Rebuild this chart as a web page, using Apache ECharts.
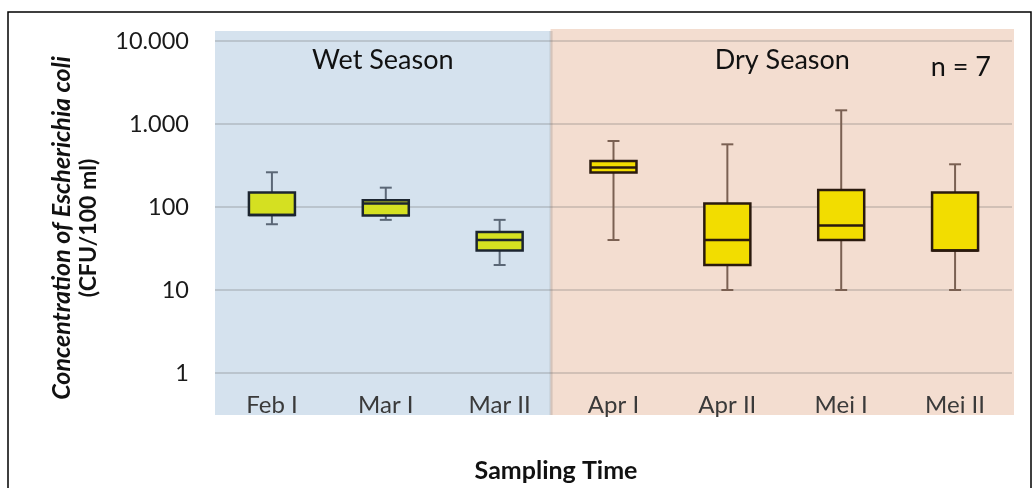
<!DOCTYPE html>
<html>
<head>
<meta charset="utf-8">
<script src="https://cdn.jsdelivr.net/npm/echarts@6/dist/echarts.min.js"></script>
<style>
html,body{margin:0;padding:0;background:#fff;}
#c{width:1033px;height:488px;}
</style>
</head>
<body>
<div id="c"></div>
<script>
// ---- data ----
const categories = ['Feb I', 'Mar I', 'Mar II', 'Apr I', 'Apr II', 'Mei I', 'Mei II'];
const season = ['wet', 'wet', 'wet', 'dry', 'dry', 'dry', 'dry'];
const whiskerMin = [62, 70, 20, 40, 10, 10, 10];
const q1 = [80, 79, 30, 260, 20, 40, 30];
const median = [80, 110, 40, 300, 40, 60, 30];
const q3 = [150, 121, 50, 358, 110, 160, 150];
const whiskerMax = [262, 171, 70, 624, 569, 1462, 327];
const yTickValues = [1, 10, 100, 1000, 10000];
const yTickLabels = ['1', '10', '100', '1.000', '10.000'];
const seasonLabels = ['Wet Season', 'Dry Season'];
const sampleLabel = 'n = 7';

// ---- styles ----
const FONT = 'Lato, "Open Sans", sans-serif';
const styles = {
  wet: { fill: '#d5e021', stroke: '#1c2530', whisker: '#5b6776', bg: '#d5e2ee' },
  dry: { fill: '#f2dd00', stroke: '#2a1a0e', whisker: '#7a6052', bg: '#f3ddd0' }
};

const boxData = categories.map((c, i) => [i, whiskerMin[i], q1[i], median[i], q3[i], whiskerMax[i]]);

const chart = echarts.init(document.getElementById('c'), null, { renderer: 'canvas' });

function renderBox(params, api) {
  const i = api.value(0);
  const st = styles[season[i]];
  const band = api.size([1, 0])[0];
  const bw = band * 0.404;
  const cw = band * 0.105;
  const pMin = api.coord([i, api.value(1)]);
  const pQ1 = api.coord([i, api.value(2)]);
  const pMed = api.coord([i, api.value(3)]);
  const pQ3 = api.coord([i, api.value(4)]);
  const pMax = api.coord([i, api.value(5)]);
  const x = pMin[0];
  const wStyle = { stroke: st.whisker, lineWidth: 2 };
  const bStyle = { stroke: st.stroke, lineWidth: 2.5 };
  return {
    type: 'group',
    children: [
      { type: 'line', shape: { x1: x, y1: pMax[1], x2: x, y2: pQ3[1] }, style: wStyle },
      { type: 'line', shape: { x1: x, y1: pQ1[1], x2: x, y2: pMin[1] }, style: wStyle },
      { type: 'line', shape: { x1: x - cw / 2, y1: pMax[1], x2: x + cw / 2, y2: pMax[1] }, style: wStyle },
      { type: 'line', shape: { x1: x - cw / 2, y1: pMin[1], x2: x + cw / 2, y2: pMin[1] }, style: wStyle },
      { type: 'rect', shape: { x: x - bw / 2, y: pQ3[1], width: bw, height: pQ1[1] - pQ3[1] },
        style: { fill: st.fill, stroke: st.stroke, lineWidth: 2.5 } },
      { type: 'line', shape: { x1: x - bw / 2, y1: pMed[1], x2: x + bw / 2, y2: pMed[1] }, style: bStyle }
    ]
  };
}

const option = {
  animation: false,
  backgroundColor: '#ffffff',
  grid: { left: 215, right: 21, top: 41, bottom: 115 },
  xAxis: {
    type: 'category',
    data: categories,
    axisLine: { show: false },
    axisTick: { show: false },
    axisLabel: { margin: 20, fontSize: 24, fontFamily: FONT, color: '#3a3a3a' },
    splitLine: { show: false }
  },
  yAxis: {
    type: 'log',
    logBase: 10,
    min: 1,
    max: 10000,
    axisLine: { show: false },
    axisTick: { show: false },
    axisLabel: {
      margin: 26, fontSize: 23.5, fontFamily: FONT, color: '#1a1a1a',
      formatter: v => { const k = yTickValues.indexOf(Math.round(v)); return k >= 0 ? yTickLabels[k] : ''; }
    },
    splitLine: { show: true, lineStyle: { color: 'rgba(100,100,100,0.24)', width: 2 } }
  },
  series: [{
    type: 'custom',
    renderItem: renderBox,
    encode: { x: 0, y: [1, 2, 3, 4, 5] },
    data: boxData,
    z: 5
  }]
};
chart.setOption(option);

// background regions from the axis scales
const c0 = chart.convertToPixel({ xAxisIndex: 0 }, categories[0]);
const c1 = chart.convertToPixel({ xAxisIndex: 0 }, categories[1]);
const band = c1 - c0;
const firstDry = season.indexOf('dry');
const cLastWet = chart.convertToPixel({ xAxisIndex: 0 }, categories[firstDry - 1]);
const cLast = chart.convertToPixel({ xAxisIndex: 0 }, categories[categories.length - 1]);
const left = c0 - band / 2;
const divide = cLastWet + band / 2 - 6;
const right = cLast + band / 2 + 2;
const yTop = chart.convertToPixel({ yAxisIndex: 0 }, yTickValues[yTickValues.length - 1]) - 10;
const yBot = chart.convertToPixel({ yAxisIndex: 0 }, yTickValues[0]) + 42;

chart.setOption({
  graphic: [
    { type: 'rect', z: -10, silent: true, shape: { x: left, y: yTop, width: divide - left, height: yBot - yTop }, style: { fill: styles.wet.bg } },
    { type: 'rect', z: -10, silent: true, shape: { x: divide, y: yTop - 2, width: right - divide, height: yBot - yTop + 2 }, style: { fill: styles.dry.bg } },
    { type: 'rect', z: -9, silent: true, shape: { x: divide - 1, y: yTop, width: 3, height: yBot - yTop }, style: { fill: 'rgba(120,120,120,0.25)' } },
    { type: 'text', z: 10, x: (left + divide) / 2, y: 60, style: { text: seasonLabels[0], font: '27px ' + FONT, fill: '#111', align: 'center', verticalAlign: 'middle' } },
    { type: 'text', z: 10, x: (divide + right) / 2, y: 60, style: { text: seasonLabels[1], font: '27px ' + FONT, fill: '#111', align: 'center', verticalAlign: 'middle' } },
    { type: 'text', z: 10, x: 991, y: 67, style: { text: sampleLabel, font: '27px ' + FONT, fill: '#111', align: 'right', verticalAlign: 'middle' } },
    { type: 'text', z: 10, x: 556, y: 471, style: { text: 'Sampling Time', font: 'bold 25px ' + FONT, fill: '#111', align: 'center', verticalAlign: 'middle' } },
    { type: 'text', z: 10, x: 75, y: 228, rotation: Math.PI / 2,
      style: {
        text: '{a|Concentration of }{a|Escherichia coli}\n{b|(CFU/100 ml)}',
        align: 'center', verticalAlign: 'middle', fill: '#111',
        rich: {
          a: { fontStyle: 'italic', fontWeight: 'bold', fontSize: 25, fontFamily: FONT, lineHeight: 27, fill: '#111' },
          b: { fontWeight: 'bold', fontSize: 23, fontFamily: FONT, lineHeight: 27, fill: '#111' }
        }
      } },
    { type: 'rect', z: 20, silent: true, shape: { x: 8, y: 12, width: 1023, height: 520 }, style: { fill: 'none', stroke: '#000', lineWidth: 1.5 } }
  ]
});
</script>
</body>
</html>
